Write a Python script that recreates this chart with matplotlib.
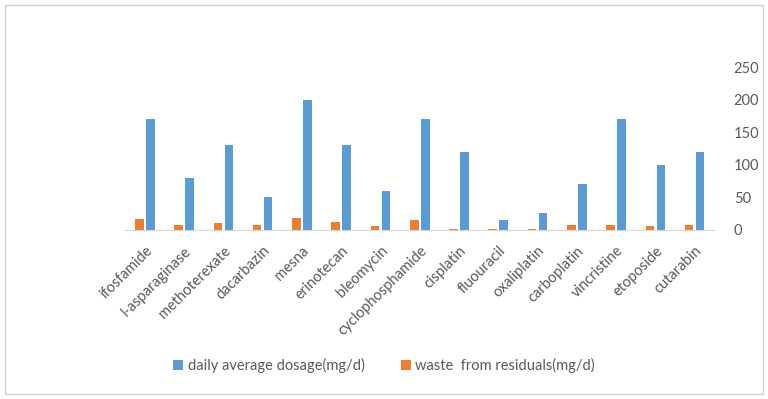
import numpy as np
import matplotlib
matplotlib.use("Agg")
import matplotlib.pyplot as plt
from matplotlib.patches import Rectangle

plt.rcParams['font.family'] = ['Lato', 'DejaVu Sans']

# drug names and the two series (mg/d)
drugs = ['ifosfamide', 'l-asparaginase', 'methoterexate', 'dacarbazin', 'mesna',
         'erinotecan', 'bleomycin', 'cyclophosphamide', 'cisplatin', 'fluouracil',
         'oxaliplatin', 'carboplatin', 'vincristine', 'etoposide', 'cutarabin']
daily_dose = [170, 80, 130, 50, 200, 130, 60, 170, 120, 15, 26, 70, 170, 100, 120]
waste = [17, 8, 10, 8, 18, 12, 6, 15, 2, 0.5, 2, 8, 8, 6, 8]

blue = '#5B9BD5'
orange = '#ED7D31'
grey_txt = '#595959'

fig = plt.figure(figsize=(7.68, 3.99), dpi=100)
fig.patches.append(Rectangle((0.006, 0.012), 0.988, 0.976, transform=fig.transFigure,
                             fill=False, edgecolor='#d0d0d0', lw=1))
ax = fig.add_axes([0.163, 0.424, 0.767, 0.408])

x = np.arange(len(drugs))
w = 0.22
ax.bar(x + 0.14, daily_dose, w, color=blue, label='daily average dosage(mg/d)')
ax.bar(x - 0.14, waste, w, color=orange, label='waste  from residuals(mg/d)')

ax.set_xlim(-0.5, len(drugs) - 0.5)
ax.set_ylim(0, 250)
ax.yaxis.tick_right()
ax.set_yticks([0, 50, 100, 150, 200, 250])
ax.tick_params(axis='y', length=0, labelsize=10.5, colors=grey_txt, pad=14)
ax.set_xticks(x)
ax.set_xticklabels(drugs, rotation=45, ha='right', rotation_mode='anchor')
ax.tick_params(axis='x', length=0, labelsize=10.5, colors=grey_txt, pad=10)
for s in ['top', 'left', 'right']:
    ax.spines[s].set_visible(False)
ax.spines['bottom'].set_color('#d9d9d9')

fig.legend(loc='center', bbox_to_anchor=(0.5, 0.083), ncol=2, frameon=False,
           fontsize=10.5, labelcolor=grey_txt, handlelength=0.7, handleheight=0.7,
           handletextpad=0.3, columnspacing=2.5)

fig.savefig('out.png', dpi=100)
